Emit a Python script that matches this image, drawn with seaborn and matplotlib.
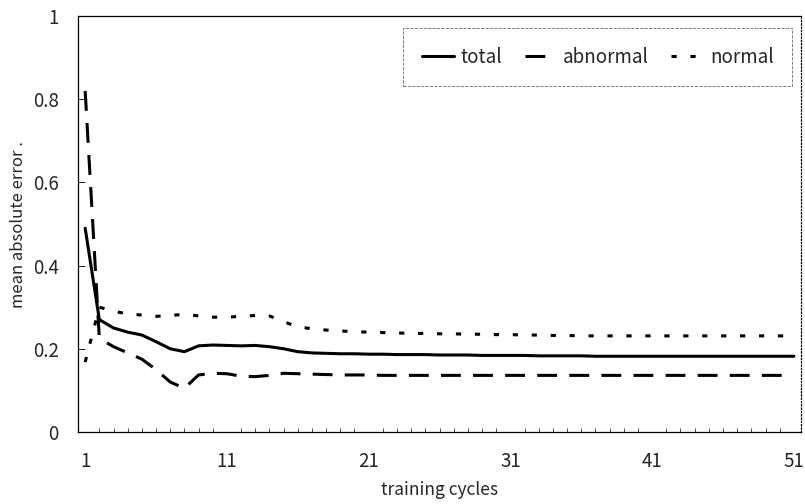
import matplotlib
matplotlib.use("Agg")
import matplotlib.pyplot as plt
import numpy as np
import pandas as pd
import seaborn as sns

# values, cycles 1..51
cycles = list(range(1, 52))
total = [0.49, 0.27, 0.25, 0.24, 0.233, 0.217, 0.200, 0.193, 0.207, 0.209,
         0.208, 0.207, 0.208, 0.205, 0.200, 0.193, 0.190, 0.189, 0.188, 0.188,
         0.187, 0.187, 0.186, 0.186, 0.186, 0.185, 0.185, 0.185, 0.184, 0.184,
         0.184, 0.184, 0.183, 0.183, 0.183, 0.183, 0.182, 0.182, 0.182, 0.182,
         0.182, 0.182, 0.182, 0.182, 0.182, 0.182, 0.182, 0.182, 0.182, 0.182,
         0.182]
abnormal = [0.82, 0.225, 0.205, 0.19, 0.175, 0.150, 0.120, 0.105, 0.137, 0.141,
            0.140, 0.134, 0.133, 0.136, 0.141, 0.140, 0.139, 0.138, 0.137, 0.137,
            0.137, 0.136, 0.136, 0.136, 0.136, 0.136, 0.136, 0.136, 0.136, 0.136,
            0.136, 0.136, 0.136, 0.136, 0.136, 0.136, 0.136, 0.136, 0.136, 0.136,
            0.136, 0.136, 0.136, 0.136, 0.136, 0.136, 0.136, 0.136, 0.136, 0.136,
            0.137]
normal = [0.168, 0.300, 0.290, 0.284, 0.281, 0.278, 0.280, 0.283, 0.279, 0.276,
          0.276, 0.278, 0.280, 0.279, 0.265, 0.253, 0.248, 0.245, 0.243, 0.241,
          0.240, 0.239, 0.238, 0.237, 0.237, 0.236, 0.236, 0.235, 0.235, 0.234,
          0.234, 0.233, 0.233, 0.232, 0.232, 0.231, 0.231, 0.231, 0.231, 0.231,
          0.231, 0.231, 0.231, 0.231, 0.231, 0.231, 0.231, 0.231, 0.231, 0.231,
          0.231]
series_names = ["total", "abnormal", "normal"]
tick_cycles = [1, 11, 21, 31, 41, 51]
y_ticks = [0, 0.2, 0.4, 0.6, 0.8, 1]
y_tick_labels = ["0", "0.2", "0.4", "0.6", "0.8", "1"]

df = pd.DataFrame({"cycle": cycles * 3,
                   "error": total + abnormal + normal,
                   "series": sum([[n] * len(cycles) for n in series_names], [])})

sns.set_theme(style="white")
plt.rcParams["font.family"] = ["Noto Sans CJK JP", "DejaVu Sans"]

fig = plt.figure(figsize=(8.05, 5.04), dpi=100)
ax = fig.add_axes([0.097, 0.143, 0.898, 0.825])

dashes = {"total": "", "abnormal": (6.5, 4.0), "normal": (1.7, 4.5)}
sns.lineplot(data=df, x="cycle", y="error", style="series", style_order=series_names,
             dashes=dashes, color="black", linewidth=2.2, ax=ax, legend=True)

ax.set_xlim(0.5, 51.5)
ax.set_ylim(0, 1)
ax.set_xticks(tick_cycles)
ax.set_xticks(cycles, minor=True)
ax.set_yticks(y_ticks)
ax.set_yticklabels(y_tick_labels)
ax.tick_params(axis="both", which="both", direction="in", labelsize=13.5,
               color="black", bottom=True, left=True)
ax.tick_params(axis="x", which="major", length=0, pad=14)
ax.tick_params(axis="x", which="minor", length=3, width=0.5)
ax.tick_params(axis="y", which="major", length=5, width=0.6, pad=14)
ax.set_xlabel("training cycles", fontsize=12.5, labelpad=6)
ax.set_ylabel("mean absolute error .", fontsize=12, labelpad=4)

for side in ["left", "bottom", "top"]:
    ax.spines[side].set_color("black")
    ax.spines[side].set_linewidth(0.9)
ax.spines["right"].set_color("black")
ax.spines["right"].set_linewidth(0.9)
ax.spines["right"].set_linestyle(":")

handles, labels = ax.get_legend_handles_labels()
leg = ax.legend(handles, labels, ncol=3, loc="upper right", bbox_to_anchor=(0.988, 0.972),
                borderaxespad=0, frameon=True, fancybox=False, fontsize=13.5,
                handlelength=1.7, handletextpad=0.35, columnspacing=1.2, borderpad=1.0)
frame = leg.get_frame()
frame.set_edgecolor("#444444")
frame.set_linewidth(0.6)
frame.set_linestyle("--")

fig.savefig("out.png", dpi=100)
